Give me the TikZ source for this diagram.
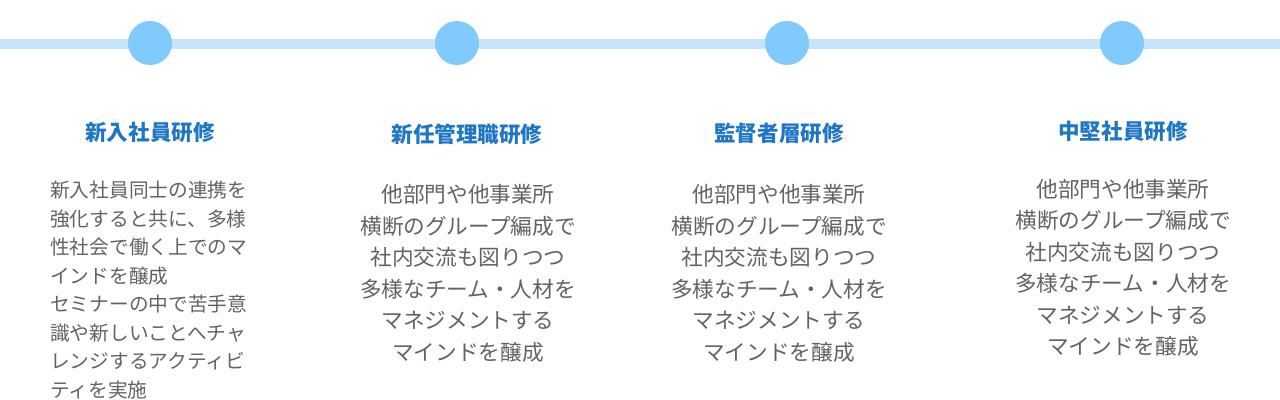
\documentclass[tikz,border=0pt]{standalone}
\usepackage{fontspec}
\newfontfamily\jp{Noto Sans CJK JP}
\definecolor{linebl}{HTML}{C4E5FD}
\definecolor{dotbl}{HTML}{80CAFD}
\definecolor{titlebl}{HTML}{1E76C6}
\definecolor{bodygr}{HTML}{636363}
\tikzset{
  dot/.style={circle, fill=dotbl, draw=none, minimum size=44*0.025cm, inner sep=0},
  ttl/.style={font=\jp\bfseries\fontsize{15.3}{18}\selectfont, text=titlebl, inner sep=0},
  body/.style={font=\jp\fontsize{15.4}{22.4}\selectfont, text=bodygr, inner sep=0, align=center},
  bodyl/.style={font=\jp\fontsize{14}{20.3}\selectfont, text=bodygr, inner sep=0, align=left},
}
\begin{document}
\begin{tikzpicture}[x=0.025cm, y=-0.025cm]
\useasboundingbox (0,0) rectangle (1280,400);
\fill[white] (0,0) rectangle (1280,400);
\coordinate (L) at (0,44);
\coordinate (R) at (1280,44);
\draw[linebl, line width=10*0.025cm] (L) -- (R);
\node[dot] (c1) at (150,43) {};
\node[dot] (c2) at (457,43) {};
\node[dot] (c3) at (787,43) {};
\node[dot] (c4) at (1122,43) {};
\node[ttl] (t1) at (150,132) {新入社員研修};
\node[ttl] (t2) at (467,134) {新任管理職研修};
\node[ttl] (t3) at (779,133) {監督者層研修};
\node[ttl] (t4) at (1123,131) {中堅社員研修};
\node[bodyl, anchor=west] (b1) at (50,290) {新入社員同士の連携を\\強化すると共に、多様\\性社会で働く上でのマ\\インドを醸成\\セミナーの中で苦手意\\識や新しいことへチャ\\レンジするアクティビ\\ティを実施};
\node[body] (b2) at (468,273.5) {他部門や他事業所\\横断のグループ編成で\\社内交流も図りつつ\\多様なチーム・人材を\\マネジメントする\\マインドを醸成};
\node[body] (b3) at (779,273.5) {他部門や他事業所\\横断のグループ編成で\\社内交流も図りつつ\\多様なチーム・人材を\\マネジメントする\\マインドを醸成};
\node[body] (b4) at (1123,268) {他部門や他事業所\\横断のグループ編成で\\社内交流も図りつつ\\多様なチーム・人材を\\マネジメントする\\マインドを醸成};
\end{tikzpicture}
\end{document}
